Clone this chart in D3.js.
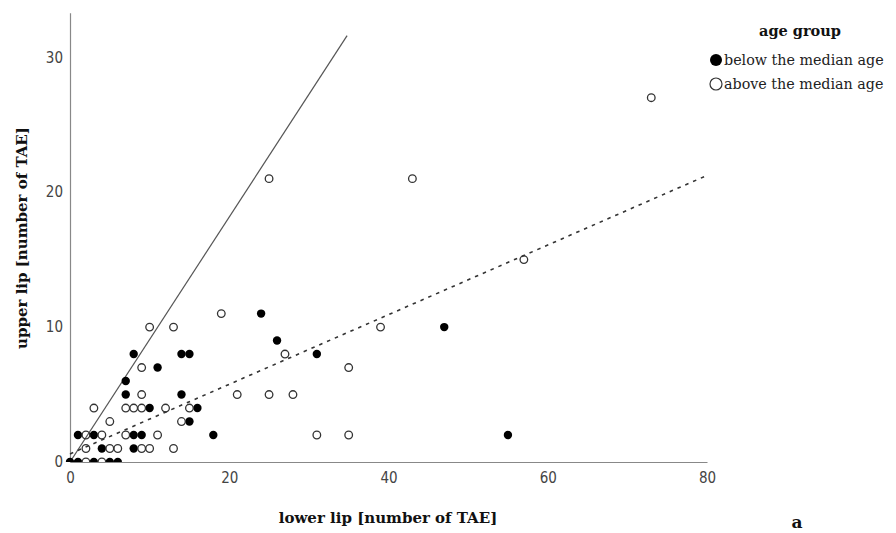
<!DOCTYPE html>
<html>
<head>
<meta charset="utf-8">
<script src="https://cdn.jsdelivr.net/npm/d3@7"></script>
<style>
  body { margin: 0; background: #fff; }
  .tick text { font-family: "DejaVu Sans Condensed", "DejaVu Sans", sans-serif; font-size: 15px; fill: #444; }
  .ttl { font-family: "DejaVu Serif", serif; font-weight: bold; font-size: 15px; fill: #111; }
  .leg { font-family: "DejaVu Serif", serif; font-size: 14.3px; fill: #222; }
</style>
</head>
<body>
<script>
// lower lip (x) / upper lip (y) counts
var belowX = [0, 1, 3, 5, 6, 1, 3, 8, 9, 18, 55, 4, 8, 15, 10, 16, 7, 14, 7, 11, 8, 14, 15, 31, 26, 47, 24];
var belowY = [0, 0, 0, 0, 0, 2, 2, 2, 2, 2, 2, 1, 1, 3, 4, 4, 5, 5, 6, 7, 8, 8, 8, 8, 9, 10, 11];

var aboveX = [2, 4, 2, 5, 6, 9, 10, 13, 2, 4, 7, 11, 31, 35, 5, 14, 3, 7, 8, 9, 12, 15, 9, 21, 25, 28, 9, 35, 27, 10, 13, 39, 19, 57, 25, 43, 73];
var aboveY = [0, 0, 1, 1, 1, 1, 1, 1, 2, 2, 2, 2, 2, 2, 3, 3, 4, 4, 4, 4, 4, 4, 5, 5, 5, 5, 7, 7, 8, 10, 10, 10, 11, 15, 21, 21, 27];

var xTicks = [0, 20, 40, 60, 80];
var yTicks = [0, 10, 20, 30];

// fit lines: [x start, x end, intercept, slope]
var solidLine = [0, 34.8, 0, 0.908];
var dottedLine = [0, 80, 0.6, 0.258];

var legendLabels = ["below the median age", "above the median age"];

function init() {
    var w = 896, h = 533;
    var left = 70, right = 707, top = 12.7, bottom = 462;

    var svg = d3.select("body").append("svg")
        .attr("width", w)
        .attr("height", h);

    var x = d3.scaleLinear().domain([0, 80]).range([left, right]);
    var y = d3.scaleLinear().domain([0, 33.3]).range([bottom, top]);

    // axes
    svg.append("g")
        .attr("transform", "translate(0," + bottom + ")")
        .call(d3.axisBottom(x).tickValues(xTicks).tickSize(0).tickPadding(10));
    svg.append("g")
        .attr("transform", "translate(" + left + ",0)")
        .call(d3.axisLeft(y).tickValues(yTicks).tickSize(0).tickPadding(7));
    svg.selectAll(".domain").attr("stroke", "#888").attr("stroke-width", 1.2);

    svg.append("clipPath").attr("id", "plot")
        .append("rect")
        .attr("x", left - 10).attr("y", 0)
        .attr("width", right - left + 20).attr("height", bottom);

    var g = svg.append("g").attr("clip-path", "url(#plot)");

    // lines
    function lineData(p) {
        return [[p[0], p[2] + p[3] * p[0]], [p[1], p[2] + p[3] * p[1]]];
    }
    var line = d3.line().x(function(d) { return x(d[0]); }).y(function(d) { return y(d[1]); });

    g.append("path")
        .attr("d", line(lineData(solidLine)))
        .attr("fill", "none")
        .attr("stroke", "#555")
        .attr("stroke-width", 1.2);

    g.append("path")
        .attr("d", line(lineData(dottedLine)))
        .attr("fill", "none")
        .attr("stroke", "#333")
        .attr("stroke-width", 1.6)
        .attr("stroke-dasharray", "3.5,5");

    // points
    g.selectAll("circle.below")
        .data(d3.range(belowX.length))
        .enter().append("circle")
        .attr("cx", function(i) { return x(belowX[i]); })
        .attr("cy", function(i) { return y(belowY[i]); })
        .attr("r", 4.2)
        .attr("fill", "#000");

    g.selectAll("circle.above")
        .data(d3.range(aboveX.length))
        .enter().append("circle")
        .attr("cx", function(i) { return x(aboveX[i]); })
        .attr("cy", function(i) { return y(aboveY[i]); })
        .attr("r", 3.8)
        .attr("fill", "none")
        .attr("stroke", "#333")
        .attr("stroke-width", 1.3);

    // axis titles
    svg.append("text").attr("class", "ttl")
        .attr("x", 388).attr("y", 523)
        .attr("text-anchor", "middle")
        .text("lower lip [number of TAE]");

    svg.append("text").attr("class", "ttl")
        .attr("transform", "translate(27,238) rotate(-90)")
        .attr("text-anchor", "middle")
        .text("upper lip [number of TAE]");

    svg.append("text").attr("class", "ttl")
        .attr("x", 797).attr("y", 528)
        .attr("text-anchor", "middle")
        .style("font-size", "17px")
        .text("a");

    // legend
    svg.append("text").attr("class", "ttl")
        .attr("x", 800).attr("y", 36)
        .attr("text-anchor", "middle")
        .style("font-size", "14.5px")
        .text("age group");

    var leg = svg.selectAll("g.leg")
        .data(legendLabels)
        .enter().append("g")
        .attr("transform", function(d, i) { return "translate(716," + (60 + i * 24) + ")"; });

    leg.append("circle")
        .attr("r", 6)
        .attr("fill", function(d, i) { return i == 0 ? "#000" : "none"; })
        .attr("stroke", "#333")
        .attr("stroke-width", function(d, i) { return i == 0 ? 0 : 1.2; });

    leg.append("text").attr("class", "leg")
        .attr("x", 8).attr("dy", "0.35em")
        .text(function(d) { return d; });
}
window.onload = init;
</script>
</body>
</html>
